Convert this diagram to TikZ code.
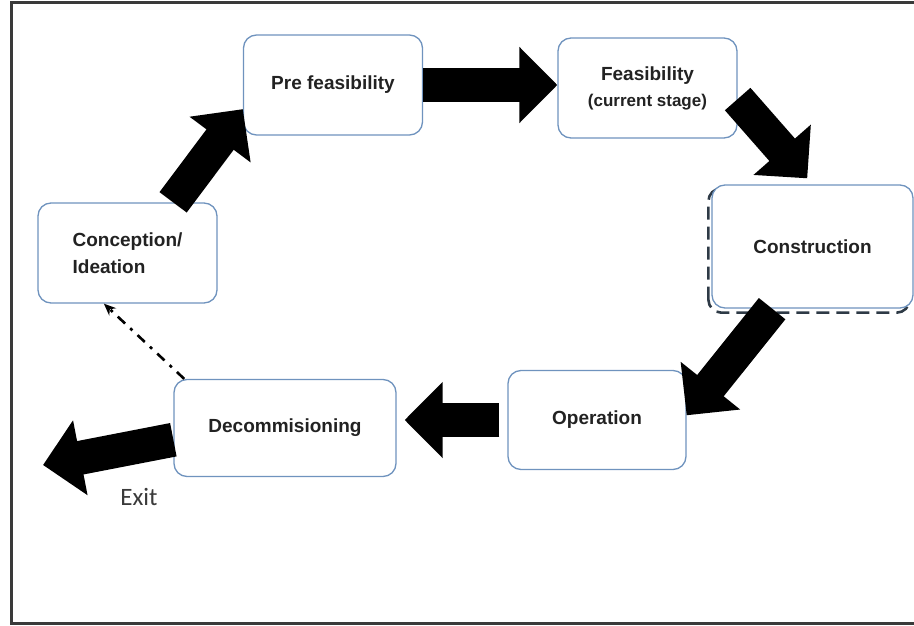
\documentclass[tikz,border=0pt]{standalone}
\usepackage{fontspec}
\setmainfont{Liberation Sans}
\newfontfamily\exitfont{Carlito}
\usetikzlibrary{arrows.meta,backgrounds}
\definecolor{lcBlue}{HTML}{6F93BE}
\definecolor{lcFrame}{HTML}{3A3A3A}
\definecolor{lcDash}{HTML}{2E3A46}
\definecolor{lcText}{HTML}{222222}
\tikzset{
  lc frame/.style={draw=lcFrame, line width=3pt},
  lc stage/.style={draw=lcBlue, fill=white, line width=1.3pt, rounded corners=13pt,
    minimum width=179pt, minimum height=100pt, inner sep=0pt,
    font=\fontsize{19}{27}\selectfont\bfseries, text=lcText},
  lc flow/.style={draw=black, line width=34pt, -{Triangle[length=38pt,width=74pt]}},
  lc return/.style={draw=black, line width=2.6pt, dash pattern=on 10pt off 7pt on 3pt off 7pt,
    -{Stealth[length=12pt,width=10pt]}},
  lc exit/.style={font=\exitfont\fontsize{25}{28}\selectfont, text=lcFrame},
}

\begin{document}
\begin{tikzpicture}[x=1pt, y=1pt]
  \useasboundingbox (0,0) rectangle (914,-626);
  % Frame, open on the right
  \draw[lc frame] (920,-3) -- (11,-3) -- (11,-623) -- (920,-623);

  % Stages of the cycle
  \node[lc stage, align=left] (concep) at (127.5,-253) {Conception/\\Ideation};
  \node[lc stage] (pre) at (333,-85) {Pre feasibility};
  \node[lc stage, align=center] (feas) at (647.5,-88)
    {Feasibility\\[-1pt]{\fontsize{17}{20}\selectfont (current stage)}};
  \node[lc stage, minimum width=201pt, minimum height=123pt] (constr) at (812.5,-246.5) {Construction};
  \node[lc stage, minimum width=178pt, minimum height=99pt] (oper) at (597,-420) {Operation};
  \node[lc stage, minimum width=222pt, minimum height=97pt] (decom) at (285,-428) {Decommisioning};
  \coordinate (exitpt) at (43,-465);
  \node[lc exit] (exitlbl) at (139,-497) {Exit};

  % Dashed outline peeking out behind Construction
  \begin{scope}[on background layer]
    \draw[lcDash, line width=2.6pt, dash pattern=on 13pt off 7pt, rounded corners=13pt]
      ([shift={(-3,-4)}]constr.south west) rectangle ([shift={(-4,-4)}]constr.north east);
  \end{scope}

  % Block arrows
  \draw[lc flow] (concep.48) -- (pre.195.5);
  \draw[lc flow] (pre.east) -- (pre.east -| feas.west);
  \draw[lc flow, shorten >=8pt] (feas.-7.6) -- (constr.north);
  \draw[lc flow] (constr.237.5) -- (oper.3);
  \draw[lc flow, shorten <=8pt, shorten >=8pt] (oper.west) -- (oper.west -| decom.east);
  \draw[lc flow] (decom.186) -- (exitpt);

  % Return to the start
  \draw[lc return] (decom.154) -- (concep.245);
\end{tikzpicture}
\end{document}
